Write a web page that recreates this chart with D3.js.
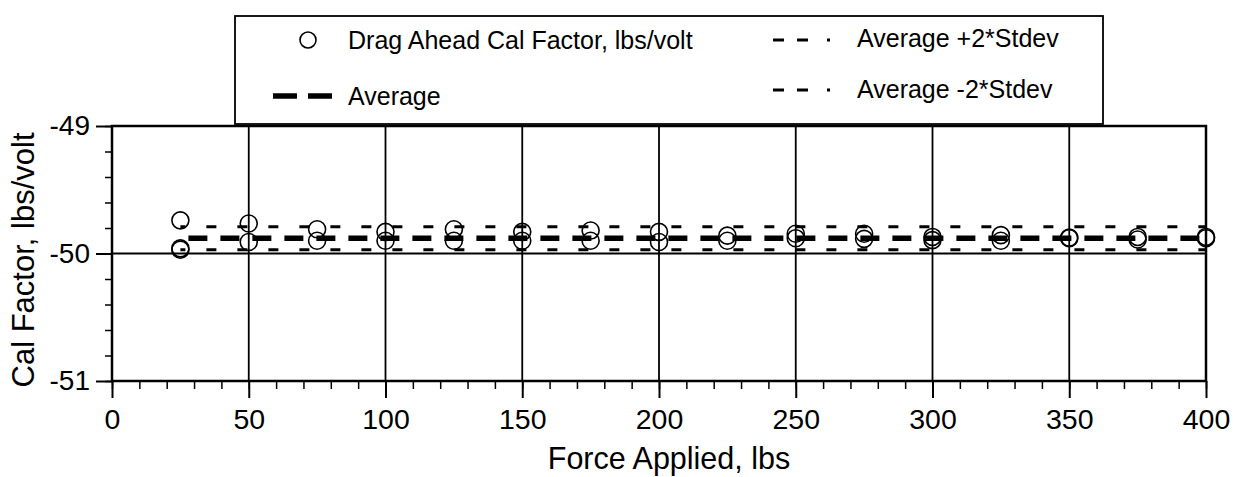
<!DOCTYPE html>
<html>
<head>
<meta charset="utf-8">
<script src="https://cdn.jsdelivr.net/npm/d3@7"></script>
<style>
  html, body { margin: 0; padding: 0; background: #fff; }
  svg text { font-family: "Liberation Sans", Arial, Helvetica, sans-serif; fill: #000; }
</style>
</head>
<body>
<svg id="chart" width="1238" height="477"></svg>
<script>
// ---- data ----
const forceLbs = [25,25,25,50,50,75,75,100,100,125,125,150,150,175,175,200,200,225,225,250,250,275,275,300,300,325,325,350,350,375,375,400,400];
const calFactor = [-49.74,-49.96,-49.97,-49.765,-49.91,-49.81,-49.90,-49.83,-49.90,-49.81,-49.90,-49.83,-49.90,-49.82,-49.90,-49.83,-49.91,-49.86,-49.90,-49.845,-49.88,-49.845,-49.885,-49.87,-49.895,-49.856,-49.90,-49.875,-49.88,-49.87,-49.89,-49.87,-49.88];
const lineRange = [25, 400];
const averageValue = -49.88;
const plus2Stdev = -49.79;
const minus2Stdev = -49.97;
const xTickValues = [0,50,100,150,200,250,300,350,400];
const yTickValues = [-51,-50,-49];
const xMinorTicks = d3.range(0, 401, 10);
const yMinorTicks = d3.range(-51, -48.99, 0.2);
const legendLabels = ["Drag Ahead Cal Factor, lbs/volt", "Average", "Average +2*Stdev", "Average -2*Stdev"];

// ---- layout ----
const L = 112, R = 1206, T = 126, B = 381;
const svg = d3.select("#chart");
const x = d3.scaleLinear().domain([0, 400]).range([L, R]);
const y = d3.scaleLinear().domain([-51, -49]).range([B, T]);
const fmt = d => String(Math.round(d));

// grid lines
const grid = svg.append("g").attr("stroke", "#000").attr("stroke-width", 1.8);
grid.selectAll("line.v").data(xTickValues.slice(1, -1)).join("line")
  .attr("x1", d => x(d)).attr("x2", d => x(d)).attr("y1", T).attr("y2", B);
grid.selectAll("line.h").data([-50]).join("line")
  .attr("x1", L).attr("x2", R).attr("y1", d => y(d)).attr("y2", d => y(d));

// minor ticks
const xMinor = d3.axisBottom(x).tickValues(xMinorTicks).tickSize(8).tickFormat("");
svg.append("g").attr("transform", `translate(0,${B})`).call(xMinor)
  .call(g => g.select(".domain").remove())
  .call(g => g.selectAll("line").attr("stroke-width", 1.5));
const yMinor = d3.axisLeft(y).tickValues(yMinorTicks).tickSize(7).tickFormat("");
svg.append("g").attr("transform", `translate(${L},0)`).call(yMinor)
  .call(g => g.select(".domain").remove())
  .call(g => g.selectAll("line").attr("stroke-width", 1.5));

// major axes
const xAxis = d3.axisBottom(x).tickValues(xTickValues).tickSizeInner(17).tickSizeOuter(0).tickPadding(11).tickFormat(fmt);
svg.append("g").attr("transform", `translate(0,${B})`).call(xAxis)
  .call(g => g.select(".domain").remove())
  .call(g => g.selectAll("line").attr("stroke-width", 2))
  .call(g => g.selectAll("text").attr("font-size", 28.5));
const yAxis = d3.axisLeft(y).tickValues(yTickValues).tickSizeInner(16).tickSizeOuter(0).tickPadding(6).tickFormat(fmt);
svg.append("g").attr("transform", `translate(${L},0)`).call(yAxis)
  .call(g => g.select(".domain").remove())
  .call(g => g.selectAll("line").attr("stroke-width", 2))
  .call(g => g.selectAll("text").attr("font-size", 28));

// frame
svg.append("rect").attr("x", L).attr("y", T).attr("width", R - L).attr("height", B - T)
  .attr("fill", "none").attr("stroke", "#000").attr("stroke-width", 2.5);

// stdev lines
const stdevLines = [plus2Stdev, minus2Stdev];
svg.append("g").selectAll("line").data(stdevLines).join("line")
  .attr("x1", x(lineRange[0])).attr("x2", x(lineRange[1]))
  .attr("y1", d => y(d)).attr("y2", d => y(d))
  .attr("stroke", "#000").attr("stroke-width", 3)
  .attr("stroke-dasharray", "10,21").attr("stroke-dashoffset", -26);

// average line
svg.append("line")
  .attr("x1", x(lineRange[0])).attr("x2", x(lineRange[1]))
  .attr("y1", y(averageValue)).attr("y2", y(averageValue))
  .attr("stroke", "#000").attr("stroke-width", 5.5)
  .attr("stroke-dasharray", "19,13").attr("stroke-dashoffset", 24);

// points
svg.append("g").selectAll("circle").data(forceLbs.map((f, i) => [f, calFactor[i]])).join("circle")
  .attr("cx", d => x(d[0])).attr("cy", d => y(d[1])).attr("r", 8.5)
  .attr("fill", "none").attr("stroke", "#000").attr("stroke-width", 1.6);

// axis titles
svg.append("text").attr("x", 669).attr("y", 469).attr("text-anchor", "middle")
  .attr("font-size", 30.5).text("Force Applied, lbs");
svg.append("text").attr("transform", "translate(34,260) rotate(-90)").attr("text-anchor", "middle")
  .attr("font-size", 31).text("Cal Factor, lbs/volt");

// legend
const lg = svg.append("g");
lg.append("rect").attr("x", 235).attr("y", 16).attr("width", 868).attr("height", 108)
  .attr("fill", "#fff").attr("stroke", "#000").attr("stroke-width", 1.8);
lg.append("circle").attr("cx", 308).attr("cy", 40).attr("r", 8).attr("fill", "none")
  .attr("stroke", "#000").attr("stroke-width", 1.6);
lg.append("line").attr("x1", 273).attr("x2", 332).attr("y1", 96).attr("y2", 96)
  .attr("stroke", "#000").attr("stroke-width", 5.5).attr("stroke-dasharray", "24,11");
[40, 90].forEach(yy => {
  lg.append("line").attr("x1", 773).attr("x2", 830).attr("y1", yy).attr("y2", yy)
    .attr("stroke", "#000").attr("stroke-width", 3).attr("stroke-dasharray", "11,13,11,19,3,10");
});
const legendPos = [[348, 40], [348, 96], [857, 38], [857, 89]];
lg.selectAll("text").data(legendLabels).join("text")
  .attr("x", (d, i) => legendPos[i][0]).attr("y", (d, i) => legendPos[i][1])
  .attr("dy", "0.35em").attr("font-size", 25).text(d => d);
</script>
</body>
</html>
